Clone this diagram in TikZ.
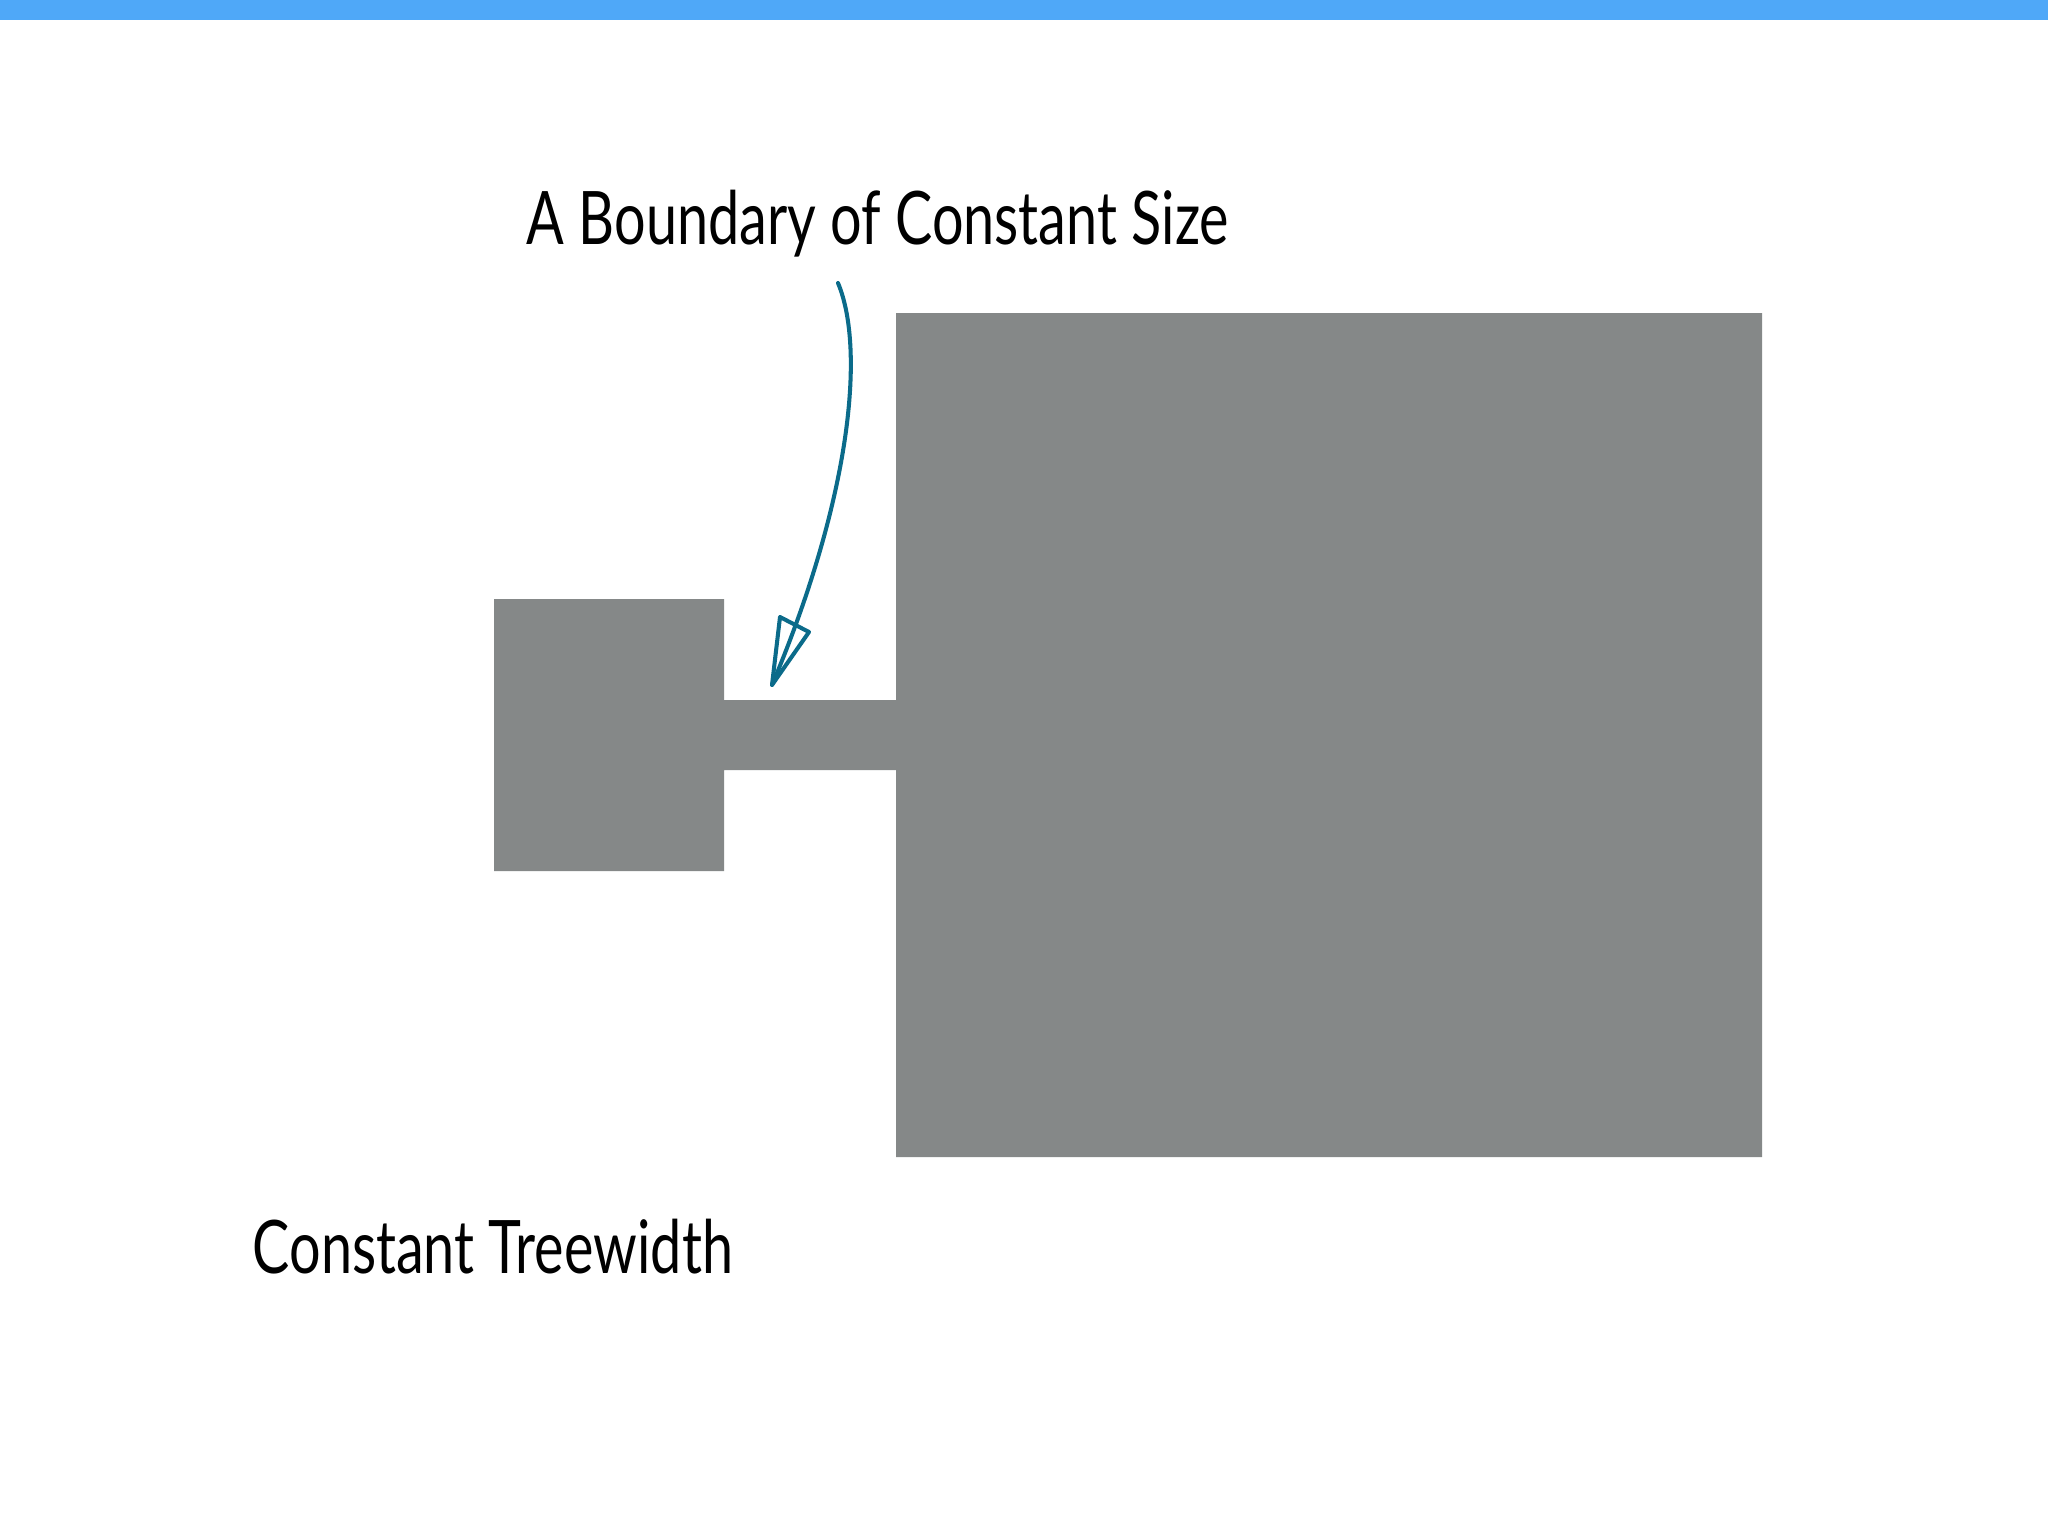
\documentclass[tikz,border=0pt]{standalone}
\usepackage{fontspec}
\setmainfont{Lato}[FakeStretch=0.755]
\definecolor{barblue}{HTML}{4FA8F8}
\definecolor{shapegray}{HTML}{858888}
\definecolor{arrowteal}{HTML}{0B6B8A}
\begin{document}
\begin{tikzpicture}[x=0.01cm,y=-0.01cm,
  lbl/.style={inner sep=0pt,anchor=base west,font=\fontsize{21}{25}\selectfont,text=black},
  conn/.style={draw=arrowteal,line width=1.15pt,line cap=round,line join=round}]
\useasboundingbox (0,0) rectangle (2048,1536);
\fill[white] (0,0) rectangle (2048,1536);
\fill[barblue] (0,0) rectangle (2048,20);
% gray shape
\fill[shapegray] (494,599) -- (724,599) -- (724,700) -- (896,700) -- (896,313) -- (1762,313)
  -- (1762,1157) -- (896,1157) -- (896,770) -- (724,770) -- (724,871) -- (494,871) -- cycle;
\node[lbl] (boundary) at (526,244) {A Boundary of Constant Size};
\node[lbl] (treewidth) at (252,1273) {Constant Treewidth};
\coordinate (start) at (838,283);
\coordinate (tip) at (772,685);
\coordinate (h1) at (780,617);
\coordinate (h2) at (809,632);
\draw[conn] (start) .. controls (866,350) and (850,500) .. (tip);
\draw[conn] (tip) -- (h1) -- (h2) -- cycle;
\end{tikzpicture}
\end{document}
